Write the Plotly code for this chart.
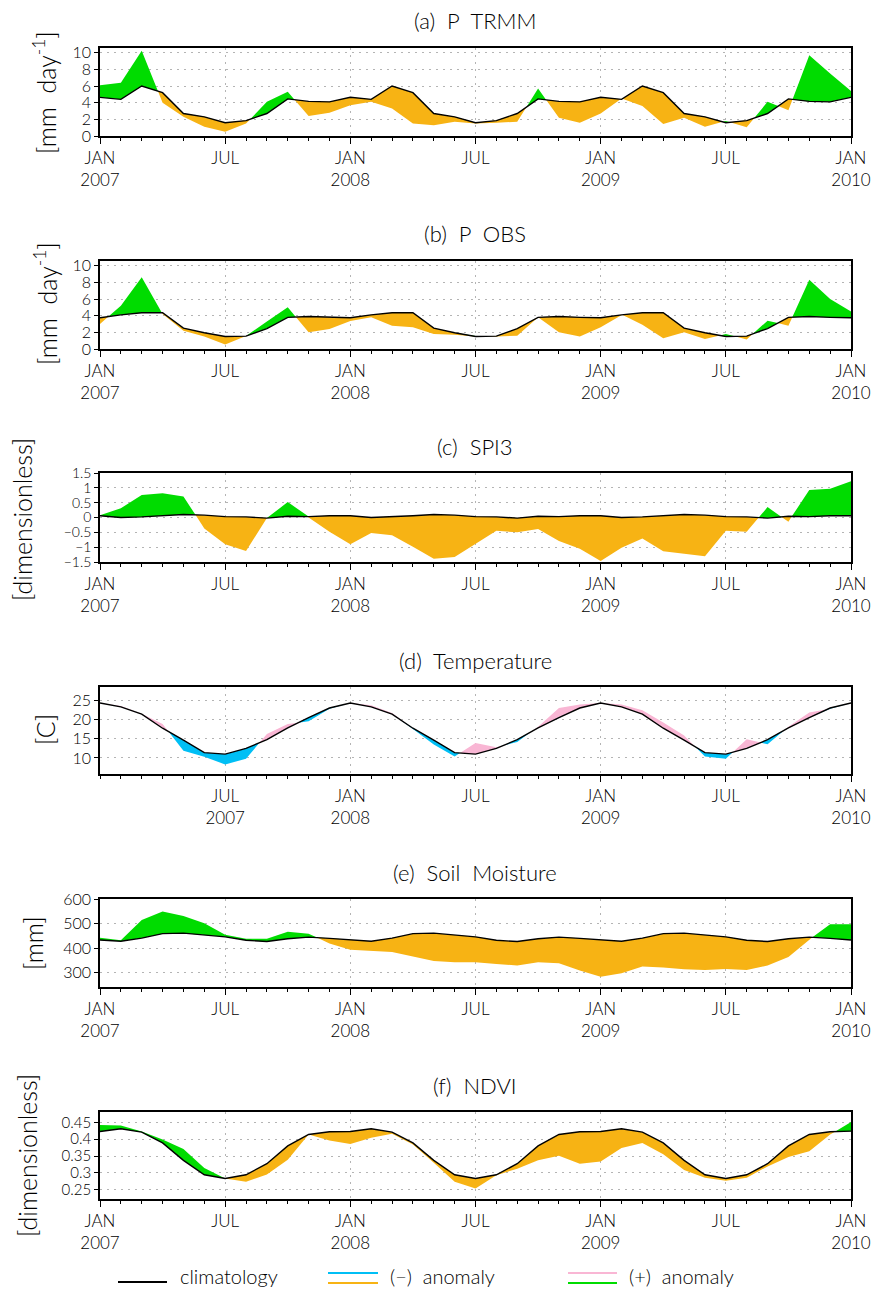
import plotly.graph_objects as go

W, H = 873, 1290
N_MONTHS = 37

TICK_POS = [0, 6, 12, 18, 24, 30, 36]
TICK_TEXT = ["JAN<br>2007", "JUL", "JAN<br>2008", "JUL", "JAN<br>2009", "JUL", "JAN<br>2010"]
TICK_POS_T = [6, 12, 18, 24, 30, 36]
TICK_TEXT_T = ["JUL<br>2007", "JAN<br>2008", "JUL", "JAN<br>2009", "JUL", "JAN<br>2010"]

# (a) P TRMM  [mm day-1]
A_CLIM = [4.64, 4.4, 6.0, 5.2, 2.7, 2.3, 1.6, 1.85, 2.7, 4.45, 4.15, 4.1,
          4.64, 4.4, 6.0, 5.2, 2.7, 2.3, 1.6, 1.85, 2.7, 4.45, 4.15, 4.1,
          4.64, 4.4, 6.0, 5.2, 2.7, 2.3, 1.6, 1.85, 2.7, 4.45, 4.15, 4.1, 4.64]
A_OBS = [6.1, 6.4, 10.24, 4.0, 2.3, 1.1, 0.5, 1.5, 4.1, 5.3, 2.4, 2.8,
         3.7, 4.1, 3.3, 1.5, 1.3, 1.7, 1.5, 1.6, 1.7, 5.7, 2.2, 1.6,
         2.7, 4.5, 3.6, 1.45, 2.2, 1.1, 1.8, 1.05, 4.1, 3.1, 9.7, 7.5, 5.4]

# (b) P OBS  [mm day-1]
B_CLIM = [3.75, 4.1, 4.35, 4.35, 2.5, 1.95, 1.5, 1.55, 2.45, 3.8, 3.9, 3.8,
          3.75, 4.1, 4.35, 4.35, 2.5, 1.95, 1.5, 1.55, 2.45, 3.8, 3.9, 3.8,
          3.75, 4.1, 4.35, 4.35, 2.5, 1.95, 1.5, 1.55, 2.45, 3.8, 3.9, 3.8, 3.75]
B_OBS = [3.0, 5.2, 8.6, 4.2, 2.2, 1.5, 0.55, 1.55, 3.3, 5.0, 2.0, 2.4,
         3.35, 3.8, 2.8, 2.6, 1.8, 1.7, 1.55, 1.5, 1.6, 3.8, 2.0, 1.5,
         2.6, 4.15, 2.9, 1.3, 2.0, 1.2, 1.8, 1.15, 3.4, 2.8, 8.3, 6.0, 4.5]

# (c) SPI3  [dimensionless]
C_CLIM = [0.06, 0.0, 0.02, 0.06, 0.1, 0.08, 0.03, 0.02, -0.02, 0.04, 0.03, 0.06,
          0.06, 0.0, 0.02, 0.06, 0.1, 0.08, 0.03, 0.02, -0.02, 0.04, 0.03, 0.06,
          0.06, 0.0, 0.02, 0.06, 0.1, 0.08, 0.03, 0.02, -0.02, 0.04, 0.03, 0.06, 0.06]
C_OBS = [0.08, 0.31, 0.76, 0.82, 0.71, -0.37, -0.9, -1.13, -0.02, 0.52, 0.0, -0.48,
         -0.9, -0.52, -0.6, -0.99, -1.39, -1.33, -0.9, -0.45, -0.5, -0.39, -0.79, -1.05,
         -1.47, -1.02, -0.71, -1.14, -1.22, -1.31, -0.45, -0.48, 0.35, -0.14, 0.93, 0.97, 1.22]

# (d) Temperature  [C]
D_CLIM = [24.4, 23.4, 21.5, 17.8, 14.7, 11.4, 11.0, 12.5, 14.8, 17.9, 20.6, 23.1,
          24.4, 23.4, 21.5, 17.8, 14.7, 11.4, 11.0, 12.5, 14.8, 17.9, 20.6, 23.1,
          24.4, 23.4, 21.5, 17.8, 14.7, 11.4, 11.0, 12.5, 14.8, 17.9, 20.6, 23.1, 24.4]
D_OBS = [24.4, 23.6, 21.6, 18.9, 11.9, 10.3, 8.3, 9.8, 16.3, 18.9, 19.6, 22.9,
         24.4, 23.8, 21.8, 17.6, 13.5, 10.4, 13.9, 12.8, 14.2, 18.2, 23.1, 24.0,
         24.4, 24.0, 22.5, 19.3, 15.9, 10.4, 9.8, 14.9, 13.6, 18.2, 21.9, 22.9, 24.4]

# (e) Soil Moisture  [mm]
E_CLIM = [433, 428, 441, 459, 461, 454, 446, 432, 427, 438, 445, 440,
          433, 428, 441, 459, 461, 454, 446, 432, 427, 438, 445, 440,
          433, 428, 441, 459, 461, 454, 446, 432, 427, 438, 445, 440, 433]
E_OBS = [442, 432, 515, 549, 531, 501, 455, 438, 438, 467, 459, 419,
         394, 390, 384, 366, 348, 343, 343, 336, 329, 343, 339, 309,
         284, 298, 325, 321, 314, 311, 315, 311, 329, 364, 435, 497, 497]

# (f) NDVI  [dimensionless]
F_CLIM = [0.423, 0.431, 0.421, 0.389, 0.337, 0.294, 0.283, 0.294, 0.327, 0.380, 0.414, 0.422,
          0.423, 0.431, 0.421, 0.389, 0.337, 0.294, 0.283, 0.294, 0.327, 0.380, 0.414, 0.422,
          0.423, 0.431, 0.421, 0.389, 0.337, 0.294, 0.283, 0.294, 0.327, 0.380, 0.414, 0.422, 0.424]
F_OBS = [0.442, 0.441, 0.423, 0.399, 0.371, 0.314, 0.283, 0.273, 0.295, 0.339, 0.414, 0.396,
         0.386, 0.404, 0.416, 0.384, 0.330, 0.273, 0.253, 0.293, 0.312, 0.337, 0.351, 0.327,
         0.334, 0.374, 0.389, 0.355, 0.308, 0.285, 0.276, 0.285, 0.319, 0.347, 0.364, 0.414, 0.451]

GREEN = "#00dc00"
ORANGE = "#f7b314"
CYAN = "#00bff5"
PINK = "#f9b6d4"
FONT = "Lato"
GRID = "#b4b4b4"

panels = [
    dict(title="(a)  P  TRMM", ytitle="[mm  day<sup>-1</sup>]", clim=A_CLIM, obs=A_OBS,
         pos=GREEN, neg=ORANGE, yr=[0, 10.56], yt=[0, 2, 4, 6, 8, 10],
         ytt=["0", "2", "4", "6", "8", "10"], top=48, bot=136, ty=20, ytx=45, yty=93,
         xt=(TICK_POS, TICK_TEXT), yfs=16),
    dict(title="(b)  P  OBS", ytitle="[mm  day<sup>-1</sup>]", clim=B_CLIM, obs=B_OBS,
         pos=GREEN, neg=ORANGE, yr=[0, 10.56], yt=[0, 2, 4, 6, 8, 10],
         ytt=["0", "2", "4", "6", "8", "10"], top=261, bot=349, ty=233, ytx=45, yty=304,
         xt=(TICK_POS, TICK_TEXT), yfs=16),
    dict(title="(c)  SPI3", ytitle="[dimensionless]", clim=C_CLIM, obs=C_OBS,
         pos=GREEN, neg=ORANGE, yr=[-1.5, 1.5], yt=[-1.5, -1, -0.5, 0, 0.5, 1, 1.5],
         ytt=["\u22121.5", "\u22121", "\u22120.5", "0", "0.5", "1", "1.5"],
         top=473, bot=562, ty=446, ytx=22, yty=520, xt=(TICK_POS, TICK_TEXT), yfs=14),
    dict(title="(d)  Temperature", ytitle="[C]", clim=D_CLIM, obs=D_OBS,
         pos=PINK, neg=CYAN, yr=[5.8, 28.6], yt=[10, 15, 20, 25],
         ytt=["10", "15", "20", "25"], top=687, bot=774, ty=660, ytx=45, yty=730,
         xt=(TICK_POS_T, TICK_TEXT_T), yfs=16),
    dict(title="(e)  Soil  Moisture", ytitle="[mm]", clim=E_CLIM, obs=E_OBS,
         pos=GREEN, neg=ORANGE, yr=[242, 600], yt=[300, 400, 500, 600],
         ytt=["300", "400", "500", "600"], top=899, bot=987, ty=872, ytx=33, yty=943,
         xt=(TICK_POS, TICK_TEXT), yfs=16),
    dict(title="(f)  NDVI", ytitle="[dimensionless]", clim=F_CLIM, obs=F_OBS,
         pos=GREEN, neg=ORANGE, yr=[0.222, 0.481], yt=[0.25, 0.3, 0.35, 0.4, 0.45],
         ytt=["0.25", "0.3", "0.35", "0.4", "0.45"], top=1112, bot=1199, ty=1085, ytx=27,
         yty=1156, xt=(TICK_POS, TICK_TEXT), yfs=15),
]

X_LEFT, X_RIGHT = 100, 851


def px_x(p):
    return p / W


def px_y(p):
    return 1 - p / H


def split_series(clim, obs):
    xs, cs, up, lo = [], [], [], []
    n = len(clim)
    for i in range(n):
        xs.append(i)
        cs.append(clim[i])
        up.append(max(clim[i], obs[i]))
        lo.append(min(clim[i], obs[i]))
        if i < n - 1:
            d0 = obs[i] - clim[i]
            d1 = obs[i + 1] - clim[i + 1]
            if d0 * d1 < 0:
                t = d0 / (d0 - d1)
                c = clim[i] + t * (clim[i + 1] - clim[i])
                xs.append(i + t)
                cs.append(c)
                up.append(c)
                lo.append(c)
    return xs, cs, up, lo


fig = go.Figure()
annotations = []
months = list(range(N_MONTHS))

for k, p in enumerate(panels, start=1):
    xa = "x" if k == 1 else f"x{k}"
    ya = "y" if k == 1 else f"y{k}"
    xs, cs, up, lo = split_series(p["clim"], p["obs"])
    fig.add_trace(go.Scatter(x=xs, y=cs, mode="lines", line=dict(width=0, color=p["pos"]),
                             xaxis=xa, yaxis=ya, showlegend=False, hoverinfo="skip"))
    fig.add_trace(go.Scatter(x=xs, y=up, mode="lines", line=dict(width=0, color=p["pos"]),
                             fill="tonexty", fillcolor=p["pos"], xaxis=xa, yaxis=ya,
                             showlegend=False, hoverinfo="skip"))
    fig.add_trace(go.Scatter(x=xs, y=cs, mode="lines", line=dict(width=0, color=p["neg"]),
                             xaxis=xa, yaxis=ya, showlegend=False, hoverinfo="skip"))
    fig.add_trace(go.Scatter(x=xs, y=lo, mode="lines", line=dict(width=0, color=p["neg"]),
                             fill="tonexty", fillcolor=p["neg"], xaxis=xa, yaxis=ya,
                             showlegend=False, hoverinfo="skip"))
    fig.add_trace(go.Scatter(x=months, y=p["clim"], mode="lines",
                             line=dict(width=1.4, color="black"),
                             xaxis=xa, yaxis=ya, showlegend=False))

    xkey = "xaxis" if k == 1 else f"xaxis{k}"
    ykey = "yaxis" if k == 1 else f"yaxis{k}"
    fig.layout[xkey] = dict(
        domain=[px_x(X_LEFT), px_x(X_RIGHT)], range=[0, 36], anchor=ya, automargin=False,
        tickmode="array", tickvals=p["xt"][0], ticktext=p["xt"][1],
        ticks="outside", ticklen=6, tickcolor="black", tickwidth=1.2,
        showline=True, linecolor="black", linewidth=1.6, mirror=True,
        showgrid=True, gridcolor=GRID, griddash="2px,5px", gridwidth=1.2,
        zeroline=False, tickfont=dict(family=FONT, size=17, color="black", weight=300),
        minor=dict(tickmode="linear", tick0=0, dtick=1, ticks="outside", ticklen=3,
                   tickcolor="black", showgrid=False),
        fixedrange=True,
    )
    fig.layout[ykey] = dict(
        domain=[px_y(p["bot"]), px_y(p["top"])], range=p["yr"], anchor=xa, automargin=False,
        tickmode="array", tickvals=p["yt"], ticktext=p["ytt"],
        ticks="outside", ticklen=4, tickcolor="black", tickwidth=1.2,
        showline=True, linecolor="black", linewidth=1.6, mirror=True,
        showgrid=True, gridcolor=GRID, griddash="2px,5px", gridwidth=1.2,
        zeroline=False, tickfont=dict(family=FONT, size=p["yfs"], color="black", weight=300),
        fixedrange=True,
    )
    annotations.append(dict(text=p["title"], xref="paper", yref="paper",
                            x=px_x((X_LEFT + X_RIGHT) / 2), y=px_y(p["ty"]),
                            xanchor="center", yanchor="middle", showarrow=False,
                            font=dict(family=FONT, size=22, color="black", weight=300)))
    annotations.append(dict(text=p["ytitle"], xref="paper", yref="paper",
                            x=px_x(p["ytx"]), y=px_y(p["yty"]), textangle=-90,
                            xanchor="center", yanchor="middle", showarrow=False,
                            font=dict(family=FONT, size=25, color="black", weight=300)))

LEGEND = [
    ("climatology", ["black"], 118, 167, 178),
    ("(\u2212)  anomaly", [CYAN, ORANGE], 328, 378, 388),
    ("(+)  anomaly", [PINK, GREEN], 568, 617, 627),
]
shapes = []
for label, cols, x0, x1, tx in LEGEND:
    ys = [1282] if len(cols) == 1 else [1273, 1283]
    for c, yy in zip(cols, ys):
        shapes.append(dict(type="line", xref="paper", yref="paper",
                           x0=px_x(x0), x1=px_x(x1), y0=px_y(yy), y1=px_y(yy),
                           line=dict(color=c, width=2)))
    annotations.append(dict(text=label, xref="paper", yref="paper",
                            x=px_x(tx), y=px_y(1276), xanchor="left", yanchor="middle",
                            showarrow=False,
                            font=dict(family=FONT, size=20, color="black", weight=300)))

fig.update_layout(
    width=W, height=H, margin=dict(l=0, r=0, t=0, b=0, pad=0, autoexpand=False),
    paper_bgcolor="white", plot_bgcolor="white",
    annotations=annotations, shapes=shapes, showlegend=False,
    font=dict(family=FONT, color="black"),
)

fig.write_html("out.html", config={"displayModeBar": False},
               post_script="document.body.style.margin='0';")
